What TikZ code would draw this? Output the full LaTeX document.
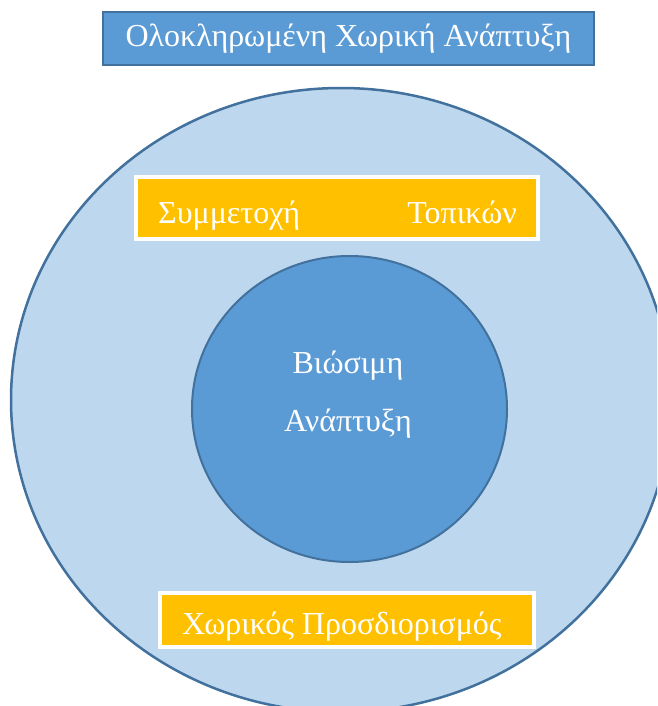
\documentclass[tikz,border=0pt]{standalone}
\usepackage{fontspec}
\setmainfont{Liberation Serif}
\usetikzlibrary{shapes.geometric}
\definecolor{ringfill}{HTML}{BDD7EE}
\definecolor{coreblue}{HTML}{5B9BD5}
\definecolor{edgeblue}{HTML}{41719C}
\definecolor{amber}{HTML}{FFC000}
\tikzset{ring/.style = {draw=edgeblue, fill=ringfill, line width=2.5pt, ellipse, inner sep=0pt},
         core/.style = {draw=edgeblue, fill=coreblue, line width=2pt, ellipse, inner sep=0pt},
         title/.style = {draw=edgeblue, fill=coreblue, line width=2pt, rectangle, text=white, inner sep=0pt},
         tag/.style = {draw=white, fill=amber, line width=4pt, rectangle, text=white, inner sep=0pt},
         word/.style = {text=white, inner sep=0pt}}

\begin{document}
\begin{tikzpicture}[x=1pt,y=-1pt,font=\fontsize{32}{58}\selectfont]
    \useasboundingbox(0,0)rectangle(657,706);
    \clip(0,0)rectangle(657,706);
    \node[title, minimum width=491pt, minimum height=53pt](top)at(348.5,38.5){Ολοκληρωμένη Χωρική Ανάπτυξη};
    \node[ring, minimum width=660pt, minimum height=624pt](outer)at(341,400){};
    \node[tag, minimum width=402pt, minimum height=62pt](part)at(336.75,208){};
    \node[word, anchor=base west](partl)at(158,223){Συμμετοχή};
    \node[word, anchor=base east](partr)at(517,223){Τοπικών};
    \node[core, minimum width=315pt, minimum height=306pt](inner)at(349.5,409){};
    \node[word, align=center](innertxt)at(348,395){Βιώσιμη\\Ανάπτυξη};
    \node[tag, minimum width=374pt, minimum height=54pt](place)at(346.75,620){};
    \node[word, anchor=base west](placetxt)at(182,634){Χωρικός Προσδιορισμός};
\end{tikzpicture}
\end{document}
